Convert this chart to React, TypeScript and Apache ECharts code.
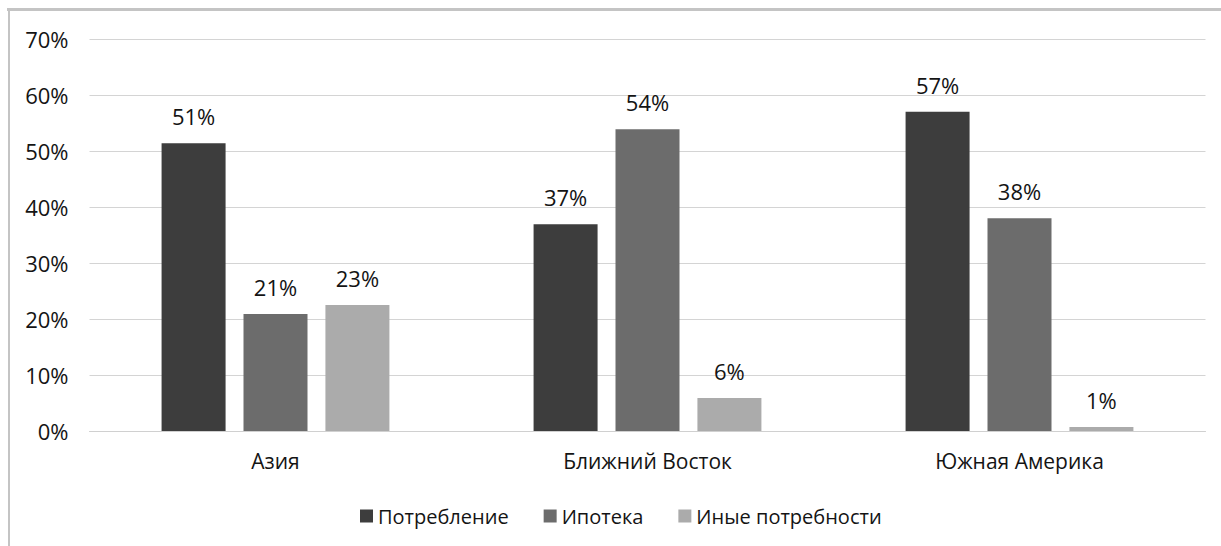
import React, { useEffect, useRef } from "react";
import * as echarts from "echarts";

const categories = ["Азия", "Ближний Восток", "Южная Америка"];
const seriesNames = ["Потребление", "Ипотека", "Иные потребности"];
const consumption = [51.4, 36.9, 57.0];
const mortgage = [20.9, 53.9, 38.0];
const otherNeeds = [22.5, 5.9, 0.7];
const yTicks = { min: 0, max: 70, interval: 10 };
const colors = ["#3d3d3d", "#6c6c6c", "#ababab"];

const FONT = "Open Sans";
const TEXT = "#141414";

export default function App() {
  const ref = useRef<HTMLDivElement>(null);
  useEffect(() => {
    if (!ref.current) return;
    const chart = echarts.init(ref.current, undefined, { renderer: "svg" });
    const values = [consumption, mortgage, otherNeeds];
    chart.setOption({
      animation: false,
      backgroundColor: "#ffffff",
      textStyle: { fontFamily: FONT },
      grid: { left: 89.5, right: 15.5, top: 39, bottom: 115, containLabel: false },
      legend: {
        left: 360,
        top: 506,
        padding: 0,
        itemWidth: 13,
        itemHeight: 13,
        itemGap: 35,
        icon: "rect",
        data: seriesNames,
        textStyle: { fontFamily: FONT, fontSize: 20, color: TEXT },
      },
      xAxis: {
        type: "category",
        data: categories,
        axisLine: { lineStyle: { color: "#d0d0d0", width: 1 } },
        axisTick: { show: false },
        axisLabel: { fontFamily: FONT, fontSize: 21, color: TEXT, margin: 19 },
      },
      yAxis: {
        type: "value",
        min: yTicks.min,
        max: yTicks.max,
        interval: yTicks.interval,
        axisLine: { show: false },
        axisTick: { show: false },
        splitLine: { lineStyle: { color: "#d4d4d4", width: 1 } },
        axisLabel: {
          formatter: "{value}%",
          fontFamily: FONT,
          fontSize: 22,
          color: TEXT,
          margin: 21,
        },
      },
      series: seriesNames.map((name, i) => ({
        name,
        type: "bar",
        data: values[i],
        barWidth: 64,
        barGap: "28%",
        itemStyle: { color: colors[i] },
        label: {
          show: true,
          position: "top",
          distance: 16,
          fontFamily: FONT,
          fontSize: 22,
          color: TEXT,
          formatter: (p: any) => Math.round(p.value) + "%",
        },
      })),
      graphic: [
        {
          type: "line",
          shape: { x1: 7, y1: 9.5, x2: 1221, y2: 9.5 },
          style: { stroke: "#c4c4c4", lineWidth: 3 },
          silent: true,
        },
        {
          type: "line",
          shape: { x1: 9, y1: 8, x2: 9, y2: 546 },
          style: { stroke: "#c4c4c4", lineWidth: 2 },
          silent: true,
        },
      ],
    });
    return () => chart.dispose();
  }, []);
  return (
    <div
      ref={ref}
      style={{ position: "fixed", left: 0, top: 0, width: 1221, height: 546, background: "#fff" }}
    />
  );
}
